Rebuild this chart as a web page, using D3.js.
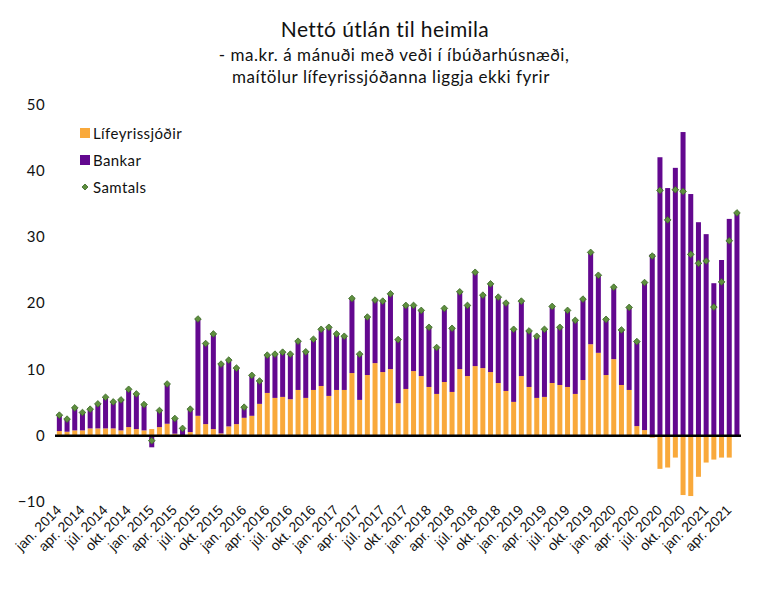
<!DOCTYPE html>
<html><head><meta charset="utf-8">
<script src="https://cdn.jsdelivr.net/npm/d3@7"></script>
<style>
body{margin:0;background:#fff;}
svg{display:block;}
</style></head>
<body>
<svg id="chart" width="757" height="605"></svg>
<script>
const months = ["jan.","feb.","mar.","apr.","maí","jún.","júl.","ágú.","sep.","okt.","nóv.","des."];
const years = [2014,2015,2016,2017,2018,2019,2020,2021];
const categories = [];
years.forEach(y => months.forEach(m => { if (categories.length < 89) categories.push(m + " " + y); }));

const lifeyrissjodir = [0.7,0.6,0.8,0.8,1.1,1.1,1.1,1.1,0.8,1.3,1.0,0.8,
  1.0,1.3,1.8,0.3,0.1,0.55,3.0,1.75,1.0,0.35,1.4,1.75,
  2.7,3.0,4.8,6.45,5.7,5.85,5.5,6.9,5.7,6.9,7.5,6.0,
  6.9,6.9,9.45,5.4,9.15,10.95,9.6,10.05,4.9,7.05,9.75,9.0,
  7.35,6.3,8.1,6.6,10.05,9.0,10.5,10.2,9.6,7.95,6.75,5.1,
  9.0,7.35,5.7,5.85,7.95,7.65,7.35,6.3,8.4,13.8,12.5,9.15,
  11.55,7.65,6.9,1.45,0.85,-0.3,-5.0,-4.8,-3.3,-8.95,-9.1,-6.2,
  -4.05,-3.6,-3.3,-3.3,null];
const bankar = [2.4,1.9,3.4,2.7,2.9,3.7,4.7,4.0,4.6,5.7,5.3,3.9,
  -1.75,2.5,6.0,2.3,1.0,3.45,14.6,12.15,14.35,10.45,10.0,8.45,
  1.6,6.1,3.45,5.7,6.6,6.75,6.8,7.35,6.95,7.65,8.55,10.35,
  8.45,8.1,11.25,6.9,8.75,9.5,10.7,11.35,9.6,12.6,9.9,9.9,
  9.0,7.0,11.1,9.6,11.65,10.65,14.15,11.0,13.3,12.95,13.25,10.95,
  11.3,8.45,9.3,10.2,11.55,8.7,11.55,11.1,12.2,13.85,11.7,8.4,
  10.85,8.3,12.45,12.75,22.25,27.4,42.0,37.35,40.4,45.8,36.45,32.2,
  30.4,23.0,26.5,32.7,33.6];
const samtals = [3.1,2.5,4.2,3.5,4.0,4.8,5.8,5.1,5.4,7.0,6.3,4.7,
  -0.75,3.8,7.8,2.6,1.1,4.0,17.6,13.9,15.35,10.8,11.4,10.2,
  4.3,9.1,8.25,12.15,12.3,12.6,12.3,14.25,12.65,14.55,16.05,16.35,
  15.35,15.0,20.7,12.3,17.9,20.45,20.3,21.4,14.5,19.65,19.65,18.9,
  16.35,13.3,19.2,16.2,21.7,19.65,24.65,21.2,22.9,20.9,20.0,16.05,
  20.3,15.8,15.0,16.05,19.5,16.35,18.9,17.4,20.6,27.65,24.2,17.55,
  22.4,15.95,19.35,14.2,23.1,27.1,37.0,32.55,37.1,36.85,27.35,26.0,
  26.35,19.4,23.2,29.4,33.6];
const yTicks = [-10,0,10,20,30,40,50];
const seriesNames = ["Lífeyrissjóðir","Bankar","Samtals"];
const colors = {orange:"#F9A93B", purple:"#63088F", green:"#5E8F3E", greenDark:"#3E6A2A"};

const svg = d3.select("#chart");
const font = "Lato, 'Noto Sans', sans-serif";

const x = d3.scaleBand().domain(categories).range([55.5, 740.8]).paddingInner(0.35).paddingOuter(0.175);
const y = d3.scaleLinear().domain([-10, 50]).range([502, 104.2]);

// title
svg.append("text").attr("x", 385).attr("y", 37).attr("text-anchor","middle")
  .style("font-family", font).style("font-size","21px").style("letter-spacing","0.4px")
  .attr("fill","#111").text("Nettó útlán til heimila");
svg.append("text").attr("x", 394).attr("y", 60.5).attr("text-anchor","middle")
  .style("font-family", font).style("font-size","17px").style("letter-spacing","0.55px")
  .attr("fill","#111").text("- ma.kr. á mánuði með veði í íbúðarhúsnæði,");
svg.append("text").attr("x", 391).attr("y", 82.5).attr("text-anchor","middle")
  .style("font-family", font).style("font-size","17px").style("letter-spacing","0.55px")
  .attr("fill","#111").text("maítölur lífeyrissjóðanna liggja ekki fyrir");

// y axis labels
const yAxis = d3.axisLeft(y).tickValues(yTicks).tickSize(0).tickPadding(0);
const gy = svg.append("g").attr("transform","translate(45,0)").call(yAxis);
gy.select(".domain").remove();
gy.selectAll("text").style("font-family", font).style("font-size","15px").style("letter-spacing","0.4px").attr("fill","#111");

// bars
const bw = x.bandwidth();
const gBars = svg.append("g");
categories.forEach((c, i) => {
  const L = lifeyrissjodir[i], B = bankar[i];
  let pos = 0, neg = 0;
  const parts = [];
  if (L !== null) {
    if (L >= 0) { parts.push({v0: pos, v1: pos + L, col: colors.orange}); pos += L; }
    else { parts.push({v0: neg + L, v1: neg, col: colors.orange}); neg += L; }
  }
  if (B >= 0) { parts.push({v0: pos, v1: pos + B, col: colors.purple}); pos += B; }
  else { parts.push({v0: neg + B, v1: neg, col: colors.purple}); neg += B; }
  parts.forEach(p => {
    gBars.append("rect").attr("x", x(c)).attr("width", bw)
      .attr("y", y(p.v1)).attr("height", Math.max(0, y(p.v0) - y(p.v1))).attr("fill", p.col);
  });
});

// zero line
svg.append("line").attr("x1", 55).attr("x2", 741).attr("y1", y(0)).attr("y2", y(0))
  .attr("stroke","#000").attr("stroke-width",2.5);

// markers
const sym = d3.symbol().type(d3.symbolSquare).size(22);
svg.append("g").selectAll("path").data(samtals).join("path")
  .attr("transform", (d,i) => `translate(${x(categories[i]) + bw/2},${y(d)}) rotate(45)`)
  .attr("d", sym).attr("fill", colors.green).attr("stroke", colors.greenDark).attr("stroke-width", 0.8);

// x labels
const gx = svg.append("g");
categories.forEach((c, i) => {
  if (i % 3 !== 0) return;
  const cx = x(c) + bw/2 + 3;
  gx.append("text").attr("transform", `translate(${cx},511) rotate(-45)`)
    .attr("text-anchor","end").style("font-family","'Liberation Sans', Arial, sans-serif")
    .style("font-size","14px").attr("fill","#111").text(c);
});

// legend
const lg = svg.append("g");
lg.append("rect").attr("x",80).attr("y",128).attr("width",10).attr("height",10).attr("fill",colors.orange);
lg.append("text").attr("x",93).attr("y",138.5).text(seriesNames[0]);
lg.append("rect").attr("x",80).attr("y",155).attr("width",10).attr("height",10).attr("fill",colors.purple);
lg.append("text").attr("x",93).attr("y",165.5).text(seriesNames[1]);
lg.append("path").attr("transform","translate(85,187) rotate(45)").attr("d", d3.symbol().type(d3.symbolSquare).size(18))
  .attr("fill", colors.green).attr("stroke", colors.greenDark).attr("stroke-width",0.8);
lg.append("text").attr("x",93).attr("y",192.5).text(seriesNames[2]);
lg.selectAll("text").style("font-family", font).style("font-size","15px").style("letter-spacing","0.4px").attr("fill","#111");
</script>
</body></html>
